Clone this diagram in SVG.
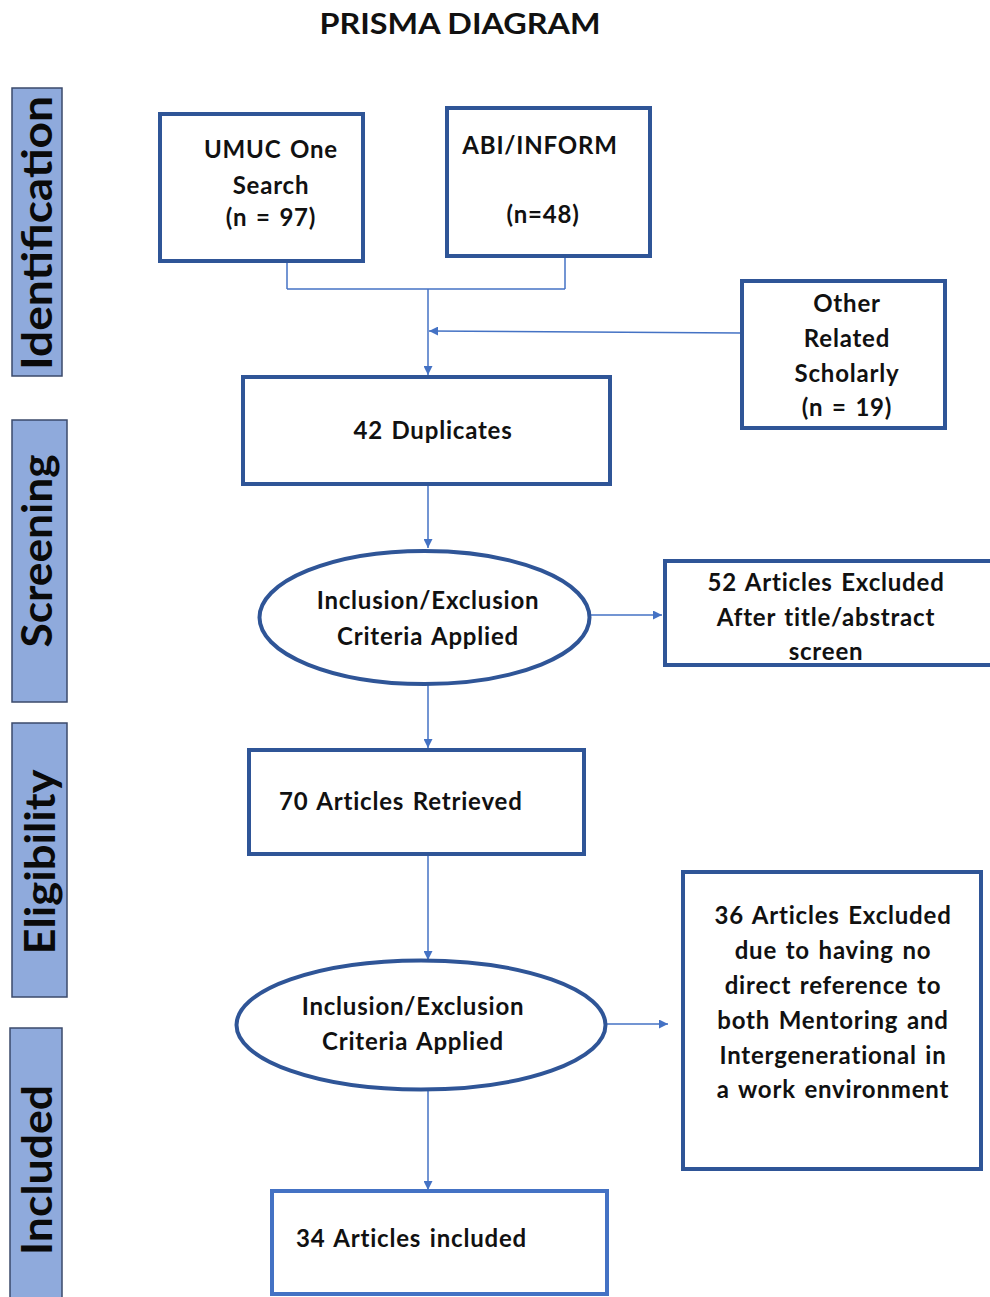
<svg xmlns="http://www.w3.org/2000/svg" width="990" height="1297" viewBox="0 0 990 1297">
<defs>
<style>
.box{fill:#fff;stroke:#2F5597;stroke-width:4}
.box2{fill:#fff;stroke:#4472C4;stroke-width:4}
.bar{fill:#8FAADC;stroke:#3B4A6B;stroke-width:1.5}
.t,.ts{font-family:Lato,"Liberation Sans",sans-serif;font-weight:700;font-size:24px;letter-spacing:0.8px;word-spacing:2px;fill:#111}
.t{text-anchor:middle}
.ts{text-anchor:start}
.side{font-family:Lato,"Liberation Sans",sans-serif;font-weight:700;font-size:42px;fill:#0a0a0a;text-anchor:middle}
.title{font-family:Lato,"Liberation Sans",sans-serif;font-weight:700;font-size:28px;fill:#111;text-anchor:middle}
.c{fill:none;stroke:#4472C4;stroke-width:1.5}
</style>
<marker id="ah" viewBox="0 0 10 10" refX="10" refY="5" markerWidth="9" markerHeight="9" markerUnits="userSpaceOnUse" orient="auto">
<path d="M0,0 L10,5 L0,10 z" fill="#4472C4"/>
</marker>
</defs>
<rect width="990" height="1297" fill="#fff"/>
<text class="title" x="460" y="34" textLength="281" lengthAdjust="spacingAndGlyphs">PRISMA DIAGRAM</text>

<g id="stage-identification">
<rect class="bar" x="12" y="88" width="50" height="288"/>
<text class="side" transform="translate(52,233) rotate(-90)" textLength="274" lengthAdjust="spacingAndGlyphs">Identification</text>
</g>
<g id="stage-screening">
<rect class="bar" x="12" y="420" width="55" height="282"/>
<text class="side" transform="translate(52,551) rotate(-90)" textLength="193" lengthAdjust="spacingAndGlyphs">Screening</text>
</g>
<g id="stage-eligibility">
<rect class="bar" x="12" y="723" width="55" height="274"/>
<text class="side" transform="translate(55,862) rotate(-90)" textLength="185" lengthAdjust="spacingAndGlyphs">Eligibility</text>
</g>
<g id="stage-included">
<rect class="bar" x="10" y="1028" width="52" height="272"/>
<text class="side" transform="translate(52,1170) rotate(-90)" textLength="170" lengthAdjust="spacingAndGlyphs">Included</text>
</g>

<g id="connectors">
<line class="c" x1="287" y1="262" x2="287" y2="289"/>
<line class="c" x1="565" y1="258" x2="565" y2="289"/>
<line class="c" x1="287" y1="289" x2="565" y2="289"/>
<line class="c" x1="428" y1="289" x2="428" y2="375" marker-end="url(#ah)"/>
<line class="c" x1="741" y1="333" x2="429" y2="331" marker-end="url(#ah)"/>
<line class="c" x1="428" y1="485" x2="428" y2="548" marker-end="url(#ah)"/>
<line class="c" x1="590" y1="615" x2="662" y2="615" marker-end="url(#ah)"/>
<line class="c" x1="428" y1="685" x2="428" y2="748" marker-end="url(#ah)"/>
<line class="c" x1="428" y1="855" x2="428" y2="960" marker-end="url(#ah)"/>
<line class="c" x1="606" y1="1024" x2="668" y2="1024" marker-end="url(#ah)"/>
<line class="c" x1="428" y1="1090" x2="428" y2="1190" marker-end="url(#ah)"/>
</g>

<g id="umuc">
<rect class="box" x="160" y="114" width="203" height="147"/>
<text class="t" x="271" y="158">UMUC One</text>
<text class="t" x="271" y="194">Search</text>
<text class="t" x="271" y="226">(n = 97)</text>
</g>
<g id="abi">
<rect class="box" x="447" y="108" width="203" height="148"/>
<text class="t" x="540" y="154">ABI/INFORM</text>
<text class="t" x="543" y="223">(n=48)</text>
</g>
<g id="other">
<rect class="box" x="742" y="281" width="203" height="147"/>
<text class="t" x="847" y="312">Other</text>
<text class="t" x="847" y="347">Related</text>
<text class="t" x="847" y="382">Scholarly</text>
<text class="t" x="847" y="416">(n = 19)</text>
</g>
<g id="duplicates">
<rect class="box" x="243" y="377" width="367" height="107"/>
<text class="t" x="433" y="439">42 Duplicates</text>
</g>
<g id="criteria1">
<ellipse class="box" cx="424.5" cy="617.5" rx="165" ry="66.5"/>
<text class="t" x="428" y="609">Inclusion/Exclusion</text>
<text class="t" x="428" y="645">Criteria Applied</text>
</g>
<g id="excluded52">
<rect class="box" x="665" y="561" width="335" height="104"/>
<text class="t" x="826" y="591">52 Articles Excluded</text>
<text class="t" x="826" y="626">After title/abstract</text>
<text class="t" x="826" y="660">screen</text>
</g>
<g id="retrieved70">
<rect class="box" x="249" y="750" width="335" height="104"/>
<text class="ts" x="279" y="810">70 Articles Retrieved</text>
</g>
<g id="criteria2">
<ellipse class="box" cx="421" cy="1025" rx="184.5" ry="64.5"/>
<text class="t" x="413" y="1015">Inclusion/Exclusion</text>
<text class="t" x="413" y="1050">Criteria Applied</text>
</g>
<g id="excluded36">
<rect class="box" x="683" y="872" width="298" height="297"/>
<text class="t" x="833" y="924">36 Articles Excluded</text>
<text class="t" x="833" y="959">due to having no</text>
<text class="t" x="833" y="994">direct reference to</text>
<text class="t" x="833" y="1029">both Mentoring and</text>
<text class="t" x="833" y="1064">Intergenerational in</text>
<text class="t" x="833" y="1098">a work environment</text>
</g>
<g id="included34">
<rect class="box2" x="272" y="1191" width="335" height="103"/>
<text class="ts" x="296" y="1247">34 Articles included</text>
</g>
</svg>
